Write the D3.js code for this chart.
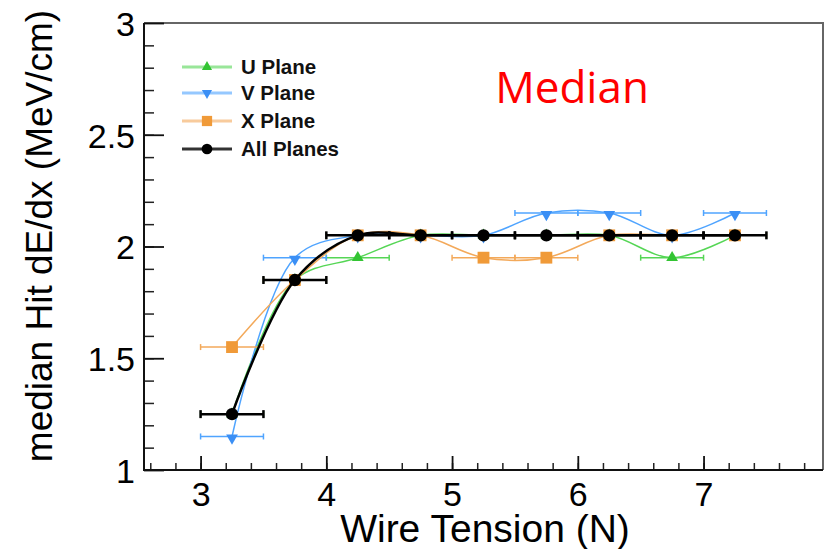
<!DOCTYPE html>
<html>
<head>
<meta charset="utf-8">
<script src="https://cdn.jsdelivr.net/npm/d3@7"></script>
<style>
  body { margin: 0; background: #fff; }
  svg { display: block; }
</style>
</head>
<body>
<script>
const width = 831;
const height = 549;
const marginTop = 23;
const marginRight = 8;
const marginBottom = 79;
const marginLeft = 144;

// bin centres (N) and half width of each bin
const tension = [3.25, 3.75, 4.25, 4.75, 5.25, 5.75, 6.25, 6.75, 7.25];
const tensionErr = 0.25;

// median hit dE/dx (MeV/cm)
const uPlane = [1.25, 1.85, 1.95, 2.05, 2.05, 2.05, 2.05, 1.95, 2.05];
const vPlane = [1.15, 1.95, 2.05, 2.05, 2.05, 2.15, 2.15, 2.05, 2.15];
const xPlane = [1.55, 1.85, 2.05, 2.05, 1.95, 1.95, 2.05, 2.05, 2.05];
const allPlanes = [1.25, 1.85, 2.05, 2.05, 2.05, 2.05, 2.05, 2.05, 2.05];

const xTicks = [3, 4, 5, 6, 7];
const yTicks = [1, 1.5, 2, 2.5, 3];
const yTickLabels = ["1", "1.5", "2", "2.5", "3"];

const series = [
  {name: "U Plane", values: uPlane, line: "#55d655", marker: "#33c433", symbol: d3.symbolTriangle, rot: 0, size: 60, width: 1.5},
  {name: "V Plane", values: vPlane, line: "#4fa4ff", marker: "#3b8ff5", symbol: d3.symbolTriangle, rot: 180, size: 60, width: 1.5},
  {name: "X Plane", values: xPlane, line: "#f3a95a", marker: "#f09a38", symbol: d3.symbolSquare, rot: 0, size: 140, width: 1.5},
  {name: "All Planes", values: allPlanes, line: "#000", marker: "#000", symbol: d3.symbolCircle, rot: 0, size: 120, width: 2.5}
];

const x = d3.scaleLinear()
  .domain([2.55, 7.95])
  .range([marginLeft, width - marginRight]);

const y = d3.scaleLinear()
  .domain([1, 3])
  .range([height - marginBottom, marginTop]);

const svg = d3.select("body").append("svg")
  .attr("width", width)
  .attr("height", height)
  .attr("viewBox", [0, 0, width, height]);

svg.append("rect").attr("width", width).attr("height", height).attr("fill", "#fff");

// frame
svg.append("path")
  .attr("d", `M${x(2.55)},${y(3)}H${x(7.95)}V${y(1)}`)
  .attr("fill", "none")
  .attr("stroke", "#666")
  .attr("stroke-width", 2);

// minor ticks
svg.append("g")
  .attr("transform", `translate(0,${y(1)})`)
  .call(d3.axisBottom(x).tickValues(d3.range(2.6, 7.95, 0.2)).tickSize(-7).tickFormat(""))
  .call(g => g.select(".domain").remove())
  .call(g => g.selectAll("line").attr("stroke", "#222").attr("stroke-width", 1.5));

svg.append("g")
  .attr("transform", `translate(${x(2.55)},0)`)
  .call(d3.axisLeft(y).tickValues(d3.range(1.1, 3, 0.1)).tickSize(-10).tickFormat(""))
  .call(g => g.select(".domain").remove())
  .call(g => g.selectAll("line").attr("stroke", "#222").attr("stroke-width", 1.5));

// major ticks + labels
svg.append("g")
  .attr("transform", `translate(0,${y(1)})`)
  .call(d3.axisBottom(x).tickValues(xTicks).tickSize(-14).tickPadding(14).tickFormat(d3.format("d")))
  .call(g => g.select(".domain").remove())
  .call(g => g.selectAll("line").attr("stroke", "#111").attr("stroke-width", 1.8))
  .call(g => g.selectAll("text")
    .attr("y", 36)
    .attr("dy", null)
    .attr("fill", "#000")
    .style("font", "34px 'Liberation Sans', Arial, sans-serif"));

svg.append("g")
  .attr("transform", `translate(${x(2.55)},0)`)
  .call(d3.axisLeft(y).tickValues(yTicks).tickSize(-20).tickFormat((d, i) => yTickLabels[i]))
  .call(g => g.select(".domain").remove())
  .call(g => g.selectAll("line").attr("stroke", "#111").attr("stroke-width", 1.8))
  .call(g => g.selectAll("text")
    .attr("x", -9)
    .attr("dy", "0.36em")
    .attr("fill", "#000")
    .style("font", "34px 'Liberation Sans', Arial, sans-serif"));

// axis lines
svg.append("path")
  .attr("d", `M${x(2.55)},${y(3)}V${y(1)}H${x(7.95)}`)
  .attr("fill", "none")
  .attr("stroke", "#111")
  .attr("stroke-width", 2);

// axis titles
svg.append("text")
  .text("Wire Tension (N)")
  .attr("x", 485)
  .attr("y", 542)
  .attr("text-anchor", "middle")
  .style("font", "39px 'Liberation Sans', Arial, sans-serif");

svg.append("text")
  .text("median Hit dE/dx (MeV/cm)")
  .attr("transform", `translate(52,236) rotate(-90)`)
  .attr("text-anchor", "middle")
  .style("font", "37px 'Liberation Sans', Arial, sans-serif");

// curves, error bars, markers
const curve = d3.line()
  .x((d, i) => x(tension[i]))
  .y(d => y(d))
  .curve(d3.curveCatmullRom.alpha(0.5));

series.forEach(s => {
  const g = svg.append("g");
  const cap = s.name === "All Planes" ? 4 : 3;

  g.append("path")
    .attr("d", curve(s.values))
    .attr("fill", "none")
    .attr("stroke", s.line)
    .attr("stroke-width", s.width);

  const bars = g.selectAll(".err")
    .data(s.values)
    .enter().append("g");

  bars.append("line")
    .attr("x1", (d, i) => x(tension[i] - tensionErr))
    .attr("x2", (d, i) => x(tension[i] + tensionErr))
    .attr("y1", d => y(d))
    .attr("y2", d => y(d))
    .attr("stroke", s.line)
    .attr("stroke-width", s.width);

  bars.selectAll(".cap")
    .data((d, i) => [[tension[i] - tensionErr, d], [tension[i] + tensionErr, d]])
    .enter().append("line")
      .attr("x1", d => x(d[0]))
      .attr("x2", d => x(d[0]))
      .attr("y1", d => y(d[1]) - cap)
      .attr("y2", d => y(d[1]) + cap)
      .attr("stroke", s.line)
      .attr("stroke-width", s.width);

  g.selectAll(".marker")
    .data(s.values)
    .enter().append("path")
      .attr("d", d3.symbol(s.symbol, s.size))
      .attr("transform", (d, i) => `translate(${x(tension[i])},${y(d) + (s.rot ? 1.5 : 0)}) rotate(${s.rot})`)
      .attr("fill", s.marker);
});

// legend
const legend = svg.append("g");
const legendRows = [67, 93, 121, 149];

series.forEach((s, i) => {
  const row = legend.append("g").attr("transform", `translate(0,${legendRows[i]})`);
  row.append("line")
    .attr("x1", 182).attr("x2", 232)
    .attr("stroke", s.line)
    .attr("stroke-opacity", s.name === "All Planes" ? 0.8 : 0.6)
    .attr("stroke-width", 3);
  row.append("path")
    .attr("d", d3.symbol(s.symbol, s.size * 0.75))
    .attr("transform", `translate(207,0) rotate(${s.rot})`)
    .attr("fill", s.marker);
  row.append("text")
    .text(s.name)
    .attr("x", 241)
    .attr("dy", "0.36em")
    .style("font", "bold 20.5px 'Liberation Sans', Arial, sans-serif")
    .attr("fill", "#111");
});

svg.append("text")
  .text("Median")
  .attr("x", 572)
  .attr("y", 103)
  .attr("text-anchor", "middle")
  .attr("fill", "#ff0000")
  .style("font", "44px 'Open Sans', sans-serif");
</script>
</body>
</html>
